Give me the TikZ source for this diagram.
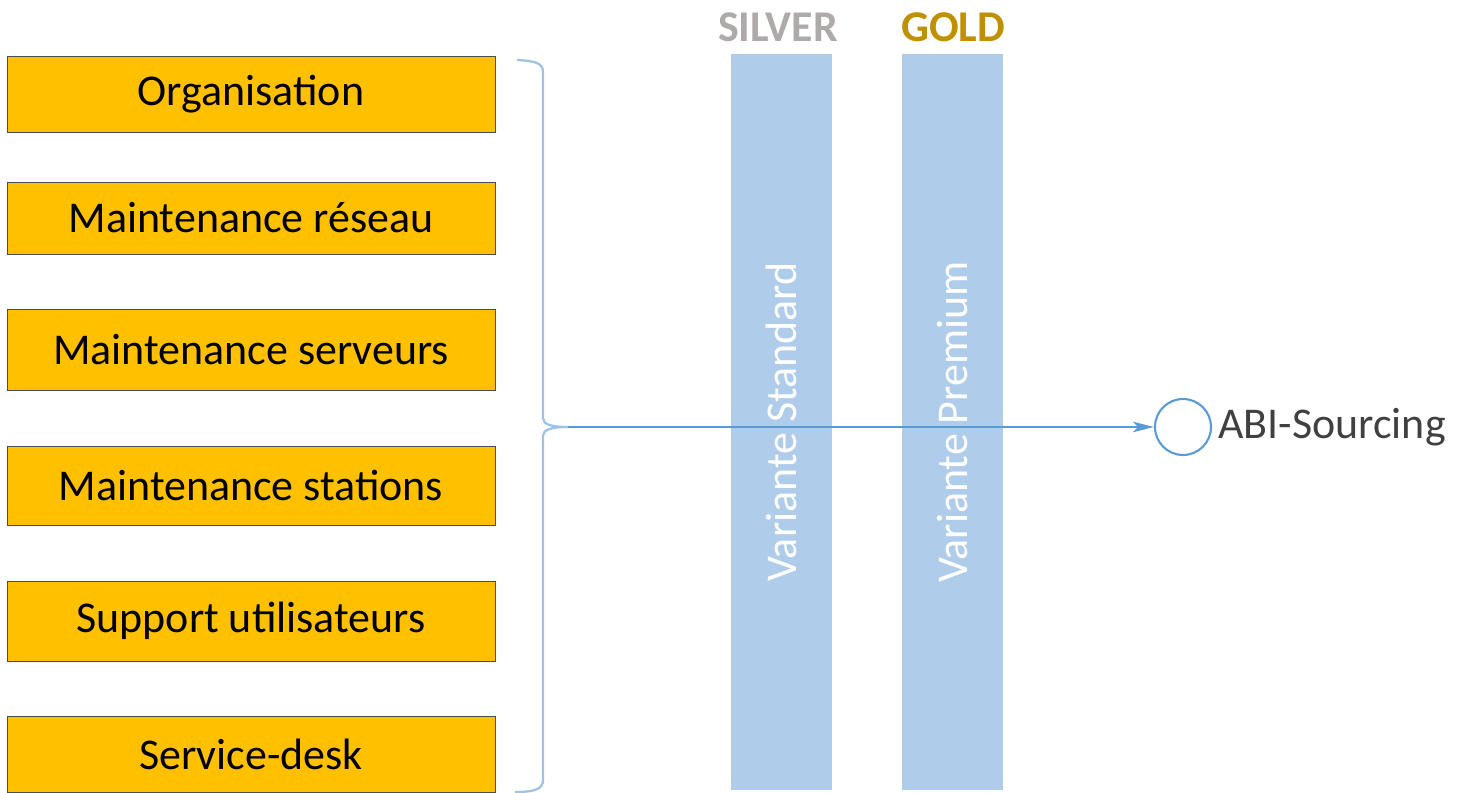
\documentclass[tikz,border=0pt]{standalone}
\usepackage{fontspec}
\setmainfont{Carlito}
\usetikzlibrary{arrows.meta, positioning}
\definecolor{boxorange}{HTML}{FFC000}
\definecolor{barblue}{HTML}{AFCDEA}
\definecolor{linkblue}{HTML}{5B9BD5}
\definecolor{bracelight}{HTML}{9DC3E6}
\definecolor{silvergray}{HTML}{AEAAAA}
\definecolor{goldtext}{HTML}{BF9000}

\begin{document}
\begin{tikzpicture}[x=0.02cm, y=-0.02cm, >={Stealth[length=12pt, width=6pt, inset=3pt]},
    font=\fontsize{25}{30}\selectfont,
    service/.style={draw=black!70, fill=boxorange, minimum width=9.76cm, inner sep=0pt},
    variant/.style={fill=barblue, text=white, rotate=90, minimum width=14.72cm, minimum height=2.02cm, inner sep=0pt},
    level/.style={font=\fontsize{25}{30}\selectfont\bfseries, inner sep=0pt}]
\useasboundingbox (0,0) rectangle (1467,793);

\node[service, minimum height=1.52cm] (org) at (251,94) {Organisation};
\node[service, minimum height=1.44cm] (reseau) at (251,218) {Maintenance réseau};
\node[service, minimum height=1.62cm] (serveurs) at (251,349.5) {Maintenance serveurs};
\node[service, minimum height=1.58cm] (stations) at (251,485.5) {Maintenance stations};
\node[service, minimum height=1.6cm] (support) at (251,621) {Support utilisateurs};
\node[service, minimum height=1.52cm] (desk) at (251,754) {Service-desk};

\node[variant] (silver) at (781.5,422) {Variante Standard};
\node[variant] (gold) at (952.5,422) {Variante Premium};
\node[level, text=silvergray] (silverlbl) at (778,27) {SILVER};
\node[level, text=goldtext] (goldlbl) at (953,27) {GOLD};

\node[circle, draw=linkblue, line width=1.2pt, minimum size=1.12cm] (abi) at (1183,427) {};
\node[right=0.12cm of abi, inner sep=0pt, text=black!75] (abilbl) {ABI-Sourcing};

% brace
\coordinate (tip) at (568,427);
\draw[bracelight, line width=1.3pt] (517,60) .. controls (535,61) and (543,63) .. (543,72)
    -- (543,418) .. controls (543,424) and (550,427) .. (tip)
    .. controls (550,427) and (543,430) .. (543,436)
    -- (543,780) .. controls (543,789) and (535,792) .. (515,792);
\draw[->, linkblue, line width=0.7pt] (tip) -- (abi);

\end{tikzpicture}
\end{document}
